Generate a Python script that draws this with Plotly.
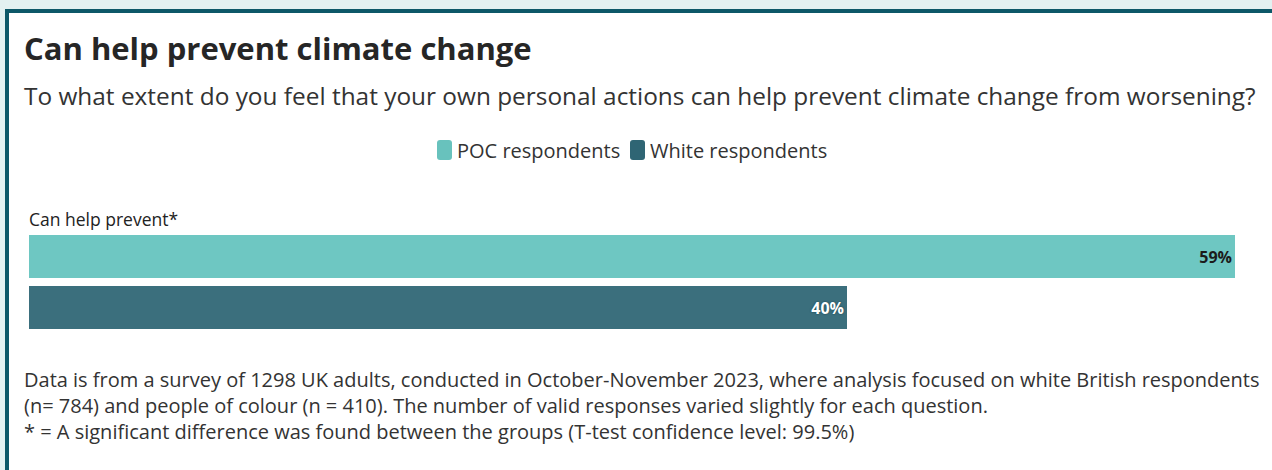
import plotly.graph_objects as go

W, H = 1272, 470

# Data
question = "Can help prevent*"
groups = ["POC respondents", "White respondents"]
values = [59, 40]
bar_colors = ["#6ec7c2", "#3b6f7d"]
swatch_colors = ["#68c2bd", "#2f6574"]
label_colors = ["#1b1b1b", "#ffffff"]
label_shadows = ["none", "0px 0px 2px #163f49"]

title = "Can help prevent climate change"
subtitle = ("To what extent do you feel that your own personal actions can help "
            "prevent climate change from worsening?")
notes = [
    "Data is from a survey of 1298 UK adults, conducted in October-November 2023, "
    "where analysis focused on white British respondents",
    "(n= 784) and people of colour (n = 410). The number of valid responses varied "
    "slightly for each question.",
    "* = A significant difference was found between the groups "
    "(T-test confidence level: 99.5%)",
]

FONT = "Open Sans"
TEXT = "#333333"


def px_x(x):
    return x / W


def px_y(y):
    return 1 - y / H


def note(text, x, y, size, color=TEXT, anchor="left"):
    return dict(text=text, x=px_x(x), y=px_y(y), xref="paper", yref="paper",
                xanchor=anchor, yanchor="middle", align="left", showarrow=False,
                font=dict(family=FONT, size=size, color=color))


def rounded_rect(x0, y0, x1, y1, r=3):
    """SVG path in paper units for a rectangle with rounded corners (pixels in)."""
    rx, ry = r / W, r / H
    X0, X1 = px_x(x0), px_x(x1)
    Yt, Yb = px_y(y0), px_y(y1)
    return (f"M {X0 + rx},{Yt} L {X1 - rx},{Yt} Q {X1},{Yt} {X1},{Yt - ry} "
            f"L {X1},{Yb + ry} Q {X1},{Yb} {X1 - rx},{Yb} "
            f"L {X0 + rx},{Yb} Q {X0},{Yb} {X0},{Yb + ry} "
            f"L {X0},{Yt - ry} Q {X0},{Yt} {X0 + rx},{Yt} Z")


fig = go.Figure()
for i, (g, v) in enumerate(zip(groups, values)):
    fig.add_trace(go.Bar(
        x=[v], y=[i], orientation="h", name=g,
        marker=dict(color=bar_colors[i], line=dict(width=0)),
        width=0.843,
        text=[v], texttemplate="%{x}%", textposition="inside",
        insidetextanchor="end",
        textfont=dict(family=FONT, size=16, color=label_colors[i],
                      weight="bold", shadow=label_shadows[i]),
        showlegend=False, hoverinfo="skip",
    ))

shapes = [
    # page background band and card border
    dict(type="rect", xref="paper", yref="paper", x0=0, x1=1, y0=0, y1=1,
         fillcolor="#e3f1f1", line=dict(width=0), layer="below"),
    dict(type="rect", xref="paper", yref="paper", x0=px_x(5), x1=1,
         y0=0, y1=px_y(9), fillcolor="#0d5868", line=dict(width=0), layer="below"),
    dict(type="rect", xref="paper", yref="paper", x0=px_x(9), x1=1,
         y0=0, y1=px_y(13), fillcolor="#ffffff", line=dict(width=0), layer="below"),
]

annotations = [
    note(f"<b>{title}</b>", 22, 48, 31, "#262626"),
    note(subtitle, 22, 95, 24.4),
    note(question, 27, 219, 17.5, "#222222"),
    # footnote block, one text with line breaks
    note("<br>".join(notes), 22, 405, 20),
]

# legend swatches and labels
legend_x = [437, 630]
for i, g in enumerate(groups):
    x0 = legend_x[i]
    x1 = x0 + 15
    shapes.append(dict(type="path", xref="paper", yref="paper",
                       path=rounded_rect(x0, 140, x1, 160),
                       fillcolor=swatch_colors[i], line=dict(width=0)))
    annotations.append(note(g, x1 + 3, 150, 20))

fig.update_layout(
    width=W, height=H,
    margin=dict(l=0, r=0, t=0, b=0),
    paper_bgcolor="#ffffff", plot_bgcolor="rgba(0,0,0,0)",
    bargap=0, barmode="overlay",
    xaxis=dict(domain=[px_x(29), px_x(1235)], range=[0, 59],
               visible=False, fixedrange=True),
    yaxis=dict(domain=[px_y(333), px_y(231)], range=[1.5, -0.5],
               visible=False, fixedrange=True),
    shapes=shapes, annotations=annotations,
    showlegend=False,
)

fig.write_html("out.html")
